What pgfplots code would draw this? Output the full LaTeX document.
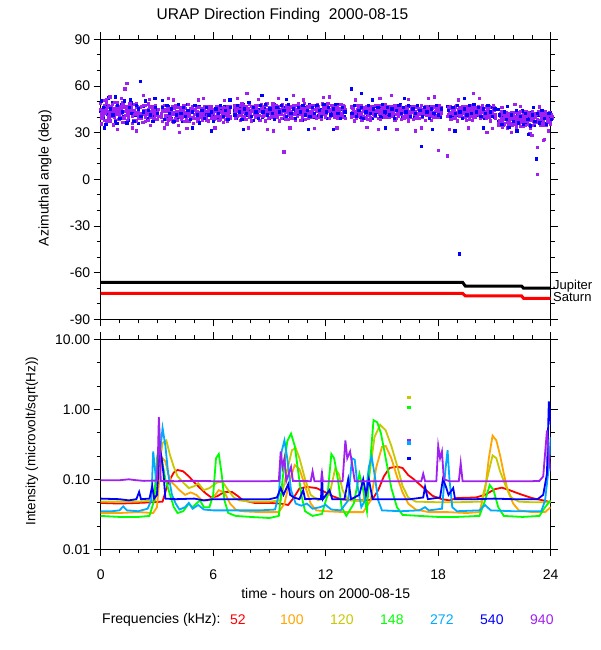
\documentclass[border=0pt]{standalone}
\usepackage{pgfplots}
\pgfplotsset{compat=1.18}
\usepackage{pgfplotstable}
\usepackage{fontspec}
\setmainfont{Liberation Sans}
\definecolor{c52}{RGB}{255,0,0}
\definecolor{c100}{RGB}{255,165,0}
\definecolor{c120}{RGB}{200,200,0}
\definecolor{c148}{RGB}{0,255,0}
\definecolor{c272}{RGB}{0,170,255}
\definecolor{c540}{RGB}{0,0,255}
\definecolor{c940}{RGB}{160,32,240}

\pgfplotstableread{
x p1 p2 p3 p4 p5 b1 b2
0.000 45 39 48 42 36 44 50
0.125 41 47 44 38 51 40 46
0.250 44 37 42 49 45 47 35
0.375 46 40 43 39 48 42 52
0.500 42 45 37 47 44 38 45
0.625 48 43 40 35 46 49 41
0.750 40 44 49 42 38 45 37
0.875 43 38 46 44 50 36 47
1.000 41 45 38 47 43 44 39
1.125 44 36 42 49 40 48 43
1.250 39 43 46 41 37 40 50
1.375 47 41 44 38 62 45 36
1.500 42 48 39 45 43 38 46
1.625 45 40 43 36 47 49 42
1.750 38 44 41 48 42 44 37
1.875 43 46 37 42 49 41 47
2.000 40 42 45 39 44 36 45
2.125 46 39 42 47 41 63 40
2.250 42 44 36 43 48 47 43
2.375 37 41 47 44 40 42 50
2.500 44 48 41 38 45 39 44
2.625 41 43 46 40 35 46 41
2.750 45 38 42 47 43 43 37
2.875 39 46 44 41 48 40 46
3.000 43 40 38 45 42 45 42
3.250 40 44 42 37 47 41 46
3.375 45 39 43 41 48 44 38
3.500 41 46 38 44 36 40 47
3.625 38 42 45 40 43 47 42
3.750 44 37 41 47 39 39 45
3.875 42 45 36 43 46 43 37
4.000 39 41 47 38 44 46 41
4.125 46 43 40 42 35 40 48
4.250 40 38 44 46 41 44 42
4.375 43 47 39 41 45 37 46
4.500 37 42 45 39 43 42 40
4.625 44 40 42 48 38 48 44
4.750 41 45 37 43 40 41 38
4.875 45 39 43 36 47 45 43
5.000 39 44 41 45 42 39 47
5.125 42 37 46 40 44 43 41
5.250 46 41 39 43 37 47 36
5.375 40 43 45 38 42 40 44
5.500 43 39 41 47 45 44 39
5.625 38 46 43 41 40 42 46
5.750 44 41 37 45 42 37 41
5.875 41 44 46 39 43 46 43
6.000 45 38 42 44 40 41 37
6.125 39 43 40 47 45 44 45
6.250 42 46 44 38 41 39 42
6.375 46 40 38 43 44 45 47
6.500 40 44 42 46 37 42 40
6.625 43 38 45 41 43 47 44
6.750 37 42 40 44 47 40 38
6.875 44 46 43 39 41 43 46
7.125 42 39 46 44 48 44 41
7.250 45 43 40 47 41 39 47
7.375 41 47 44 38 45 46 43
7.500 44 40 42 46 49 42 38
7.625 39 45 47 43 41 48 45
7.750 46 42 38 44 47 41 42
7.875 43 48 45 40 42 45 49
8.000 40 44 42 47 38 43 40
8.125 47 41 45 43 44 38 46
8.250 42 46 39 45 48 47 43
8.375 44 43 47 41 40 42 39
8.500 38 45 43 48 44 45 47
8.625 45 40 46 42 41 40 43
8.750 43 47 41 44 38 46 48
8.875 41 44 48 39 45 43 41
9.000 46 42 43 45 40 39 45
9.125 40 48 44 42 47 44 42
9.250 44 41 39 46 43 48 38
9.375 42 45 47 40 44 41 46
9.500 47 43 41 44 38 45 43
9.625 39 46 44 48 42 42 47
9.750 45 40 43 41 18 39 44
9.875 43 47 38 45 46 46 40
10.000 41 44 46 42 39 43 48
10.125 46 39 43 47 44 40 42
10.250 42 45 41 39 48 47 45
10.375 38 43 47 45 42 44 39
10.500 44 48 40 43 46 41 46
10.625 47 41 44 38 43 45 43
10.750 40 46 42 47 45 38 47
10.875 45 42 48 44 39 46 41
11.000 43 39 45 41 47 42 44
11.125 41 47 43 46 42 48 40
11.250 46 44 39 42 48 43 46
11.375 42 40 47 45 41 40 42
11.500 39 45 43 48 44 46 47
11.625 45 42 46 40 43 41 44
11.750 43 48 41 44 39 45 40
11.875 47 41 44 42 46 42 48
12.000 40 46 42 47 43 47 43
12.125 44 43 48 39 45 39 46
12.250 41 47 40 45 42 44 41
12.375 46 42 44 41 48 46 45
12.500 43 45 39 47 44 41 48
12.625 39 44 46 42 41 48 42
12.750 45 40 43 48 46 43 39
12.875 42 47 41 44 40 45 46
13.000 44 43 46 39 45 40 43
13.375 41 45 39 43 47 58 42
13.500 44 40 46 42 38 45 47
13.625 39 47 43 45 41 42 40
13.750 46 42 40 44 48 47 44
13.875 42 45 47 38 43 40 46
14.000 40 43 44 46 41 44 39
14.125 45 39 42 47 44 46 43
14.250 43 46 38 41 45 41 47
14.375 38 44 46 43 40 45 42
14.500 44 41 43 47 46 39 45
14.625 41 47 40 44 42 47 41
14.750 46 43 45 39 48 43 46
14.875 42 38 47 45 43 46 40
15.000 45 44 41 42 47 40 48
15.125 40 46 44 48 41 45 43
15.250 43 42 39 45 46 42 46
15.375 47 45 43 41 40 47 41
15.500 41 40 46 44 43 44 45
15.625 44 47 42 38 45 41 39
15.750 39 43 45 47 42 46 44
15.875 46 41 40 44 48 43 47
16.000 42 45 47 43 39 48 42
16.125 45 39 44 46 41 40 46
16.250 41 46 42 40 45 45 43
16.375 47 43 45 42 38 42 47
16.500 40 44 41 46 43 47 40
16.625 44 38 46 43 47 44 45
16.750 42 46 43 39 44 40 42
16.875 46 42 39 45 41 46 47
17.000 39 45 44 42 46 43 44
17.125 43 41 47 44 40 21 40
17.250 45 46 42 38 43 45 46
17.375 41 43 45 47 44 42 43
17.500 44 40 41 43 46 47 39
17.625 38 45 46 42 43 44 45
17.750 43 42 39 46 47 41 42
17.875 46 44 43 41 40 46 47
18.000 40 47 45 43 19 43 41
18.125 44 42 41 46 43 40 45
18.500 15 44 40 46 42 47 44
18.625 42 38 45 43 47 43 40
18.750 45 43 41 39 44 40 46
18.875 39 46 44 42 40 45 42
19.000 43 41 47 45 38 41 47
19.125 46 44 40 43 42 -48 43
19.250 41 39 45 47 44 44 39
19.375 44 46 42 40 45 47 45
19.500 38 42 46 44 41 42 41
19.625 45 40 43 47 39 46 47
19.750 42 47 41 38 45 43 42
19.875 40 43 46 44 42 40 48
20.000 46 41 39 45 43 44 43
20.125 43 45 44 41 47 41 46
20.250 39 44 42 46 40 46 40
20.375 44 40 47 43 45 43 45
20.500 41 46 43 39 42 39 42
20.625 45 42 40 44 47 45 47
20.750 40 43 46 42 38 42 43
20.875 43 47 41 45 44 46 40
21.000 46 39 44 41 42 40 45
21.250 36 40 34 42 38 37 41
21.375 39 33 41 37 44 40 35
21.500 35 38 42 40 36 36 43
21.625 41 36 39 33 43 42 38
21.750 37 42 35 40 38 39 33
21.875 40 34 38 43 36 35 41
22.000 36 39 42 37 41 43 37
22.125 43 37 35 40 34 38 44
22.250 38 41 39 36 43 41 36
22.375 34 38 43 41 37 37 40
22.500 40 36 38 34 42 44 35
22.625 37 43 40 39 35 36 42
22.750 41 35 37 43 39 40 38
22.875 35 40 42 38 33 43 34
23.000 39 37 34 41 44 38 41
23.125 36 42 39 37 40 35 37
23.250 42 38 36 3 21 13 42
23.375 37 41 43 35 38 41 36
23.500 40 34 38 42 36 37 44
23.625 38 43 37 40 26 42 39
23.750 35 39 42 37 41 36 35
23.875 41 36 38 43 39 40 42
24.000 37 40 35 39 42 43 38
}\azdata

\pgfplotsset{
  panel/.style={
    scale only axis, width=450pt,
    xmin=0, xmax=24, xtick={0,6,...,24}, minor x tick num=5,
    tick align=outside, tick pos=both,
    major tick length=7pt, minor tick length=4pt,
    axis line style={line width=1.4pt},
    every tick/.style={black, line width=0.8pt},
    tick label style={font=\fontsize{14}{16}\selectfont},
    /pgf/number format/assume math mode=true,
  },
  pts/.style={only marks, mark=square*, mark size=1.15pt, mark options={draw=#1, fill=#1, line width=0pt}},
  crv/.style={draw=#1, line width=1.8pt, mark=none},
}

\begin{document}
\begin{tikzpicture}
\path[use as bounding box] (0pt,0pt) rectangle (600pt,-650pt);

% ---------- top panel ----------
\begin{axis}[panel, at={(100.7pt,-319.3pt)}, anchor=south west, height=280pt,
  ymin=-90, ymax=90, ytick={-90,-60,...,90}, minor y tick num=2,
  xticklabels={}]
\addplot[pts=c540] table[x=x,y=b1] \azdata;
\addplot[pts=c940] table[x=x,y=p1] \azdata;
\addplot[pts=c940, xshift=1.2pt, yshift=0.7pt] table[x=x,y=p2] \azdata;
\addplot[pts=c940, yshift=0.8pt] table[x=x,y=p3] \azdata;
\addplot[pts=c940, xshift=1.2pt] table[x=x,y=p4] \azdata;
\addplot[pts=c940, xshift=0.6pt, yshift=-0.7pt] table[x=x,y=p5] \azdata;
\addplot[pts=c540, xshift=0.6pt, yshift=0.4pt] table[x=x,y=b2] \azdata;
\addplot[pts=c940] coordinates {(0.5,53) (1.3,58) (1.7,33) (2.3,54) (3.6,52) (4.2,30) (5.5,52) (7.8,55) (9.2,31) (10.3,54) (12.2,53) (14.8,32) (15.5,54) (16.8,31) (17.8,53) (19.9,55) (20.6,30) (22.1,48) (23.0,28) (23.6,25)
 (0.3,51) (0.9,32) (1.1,52) (1.9,31) (2.6,51.5) (3.4,33) (3.9,51) (4.6,32.5) (5.2,51) (6.1,33) (6.6,50.5) (7.3,52) (7.9,33) (8.4,51.5) (8.9,32) (9.5,52) (10.1,33) (10.8,51) (11.4,32.5) (11.9,52.5) (12.6,33) (13.6,51) (14.2,33.5) (14.9,52) (15.8,32) (16.4,51.5) (17.1,33) (17.5,52) (18.6,32) (19.1,51) (19.6,33) (20.2,52) (20.9,32.5) (21.4,46) (21.9,30) (22.4,47) (22.9,29.5) (23.4,46.5) (23.9,31)};
\addplot[pts=c540] coordinates {(0.8,53) (2.9,52) (5.9,31) (8.6,54) (11.1,32) (13.9,55) (16.2,52) (18.9,31) (21.7,47) (22.8,29)
 (0.2,33) (1.6,51) (3.3,50.5) (4.9,33) (6.9,51) (7.6,32) (9.9,51.5) (12.4,32) (14.5,51) (15.2,33) (17.7,32) (19.4,52) (20.4,33) (21.2,45) (22.2,31) (23.1,46)};
\addplot[black, line width=3pt] coordinates {(0,-66.2) (19.3,-66.2) (19.45,-68.7) (22.45,-68.7) (22.55,-70) (24,-70)};
\addplot[c52, line width=3pt] coordinates {(0,-73.3) (19.3,-73.3) (19.45,-75.0) (22.45,-75.0) (22.55,-76.5) (24,-76.5)};
\end{axis}

% ---------- bottom panel ----------
\begin{axis}[panel, at={(100.7pt,-549.3pt)}, anchor=south west, height=210pt,
  ymode=log, ymin=0.01, ymax=10,
  ytick={0.01,0.1,1,10}, yticklabels={0.01,0.10,1.00,10.00},
  minor ytick={0.0215,0.0464,0.215,0.464,2.15,4.64},
  xticklabel style={yshift=-10pt}]
% 52 kHz
\addplot[crv=c52] coordinates {(0,0.046) (1,0.045) (2,0.046) (2.8,0.047) (3.3,0.048) (3.6,0.09) (3.9,0.125) (4.1,0.136) (4.4,0.13) (4.7,0.11) (5.0,0.09) (5.3,0.075) (5.6,0.063) (5.9,0.055) (6.2,0.057) (6.6,0.066) (7.0,0.066) (7.3,0.058) (7.6,0.05) (8.2,0.046) (9.0,0.046) (9.6,0.045) (10.0,0.043) (10.3,0.055) (10.6,0.074) (11.0,0.078) (11.5,0.075) (12.0,0.065) (12.4,0.057) (12.8,0.052) (13.5,0.05) (14.2,0.05) (14.5,0.052) (14.8,0.07) (15.1,0.11) (15.4,0.145) (15.8,0.152) (16.1,0.145) (16.4,0.115) (16.7,0.1) (17.0,0.085) (17.3,0.072) (17.7,0.058) (18.2,0.052) (18.6,0.05) (19.0,0.054) (20.0,0.055) (20.5,0.06) (21.0,0.072) (21.4,0.076) (21.8,0.07) (22.4,0.061) (23.0,0.054) (23.6,0.05) (24,0.047)};
% 100 kHz
\addplot[crv=c100] coordinates {(0,0.033) (1,0.033) (2,0.034) (2.8,0.033) (3.0,0.04) (3.15,0.12) (3.3,0.2) (3.45,0.18) (3.6,0.12) (3.8,0.09) (4.0,0.08) (4.2,0.07) (4.5,0.06) (4.8,0.065) (5.1,0.06) (5.4,0.05) (5.7,0.05) (6.0,0.055) (6.3,0.07) (6.6,0.065) (6.9,0.045) (7.2,0.037) (7.5,0.035) (8.5,0.034) (9.5,0.034) (9.8,0.045) (10.1,0.1) (10.35,0.16) (10.6,0.14) (10.9,0.08) (11.2,0.045) (11.5,0.036) (12,0.035) (13,0.034) (14,0.034) (14.4,0.05) (14.7,0.15) (15.0,0.29) (15.2,0.3) (15.5,0.2) (15.8,0.11) (16.1,0.065) (16.4,0.045) (16.8,0.037) (17.5,0.034) (18.5,0.034) (19.5,0.033) (20.2,0.034) (20.5,0.07) (20.7,0.2) (20.9,0.42) (21.1,0.36) (21.3,0.22) (21.5,0.12) (21.7,0.07) (22.0,0.045) (22.3,0.036) (23,0.034) (23.7,0.034) (24,0.04)};
% 120 kHz
\addplot[crv=c120] coordinates {(0,0.048) (1,0.048) (2,0.048) (2.9,0.05) (3.1,0.15) (3.3,0.33) (3.5,0.36) (3.7,0.22) (3.9,0.15) (4.1,0.11) (4.4,0.09) (4.7,0.075) (5.0,0.08) (5.2,0.088) (5.5,0.07) (5.8,0.075) (6.2,0.09) (6.5,0.092) (6.8,0.07) (7.1,0.055) (7.4,0.05) (8,0.048) (9,0.048) (9.6,0.05) (9.9,0.12) (10.2,0.26) (10.4,0.28) (10.6,0.2) (10.9,0.1) (11.2,0.06) (11.6,0.05) (12.2,0.06) (12.5,0.14) (12.7,0.12) (12.9,0.07) (13.2,0.05) (14.0,0.049) (14.3,0.1) (14.6,0.4) (14.9,0.6) (15.2,0.5) (15.5,0.3) (15.8,0.16) (16.1,0.08) (16.4,0.055) (16.8,0.048) (18,0.047) (19,0.047) (20.3,0.048) (20.6,0.1) (20.9,0.22) (21.1,0.2) (21.3,0.13) (21.6,0.08) (21.9,0.055) (22.3,0.048) (23,0.047) (24,0.047)};
% 148 kHz
\addplot[crv=c148] coordinates {(0,0.03) (1,0.029) (2,0.029) (2.6,0.03) (2.85,0.05) (3.0,0.2) (3.1,0.29) (3.25,0.2) (3.45,0.1) (3.7,0.06) (3.9,0.04) (4.1,0.033) (4.4,0.035) (4.7,0.045) (4.9,0.04) (5.1,0.045) (5.3,0.05) (5.5,0.04) (5.8,0.04) (6.0,0.06) (6.15,0.2) (6.3,0.23) (6.45,0.12) (6.6,0.05) (6.8,0.033) (7.2,0.03) (8,0.029) (9,0.028) (9.5,0.03) (9.7,0.1) (9.95,0.35) (10.15,0.45) (10.35,0.3) (10.5,0.15) (10.7,0.06) (10.9,0.035) (11.3,0.03) (11.8,0.032) (12.1,0.06) (12.3,0.23) (12.45,0.2) (12.65,0.1) (12.85,0.04) (13.1,0.03) (13.5,0.045) (13.8,0.12) (14.0,0.07) (14.2,0.035) (14.35,0.15) (14.55,0.7) (14.75,0.65) (14.95,0.45) (15.2,0.2) (15.5,0.075) (15.8,0.04) (16.1,0.031) (17,0.03) (18,0.029) (19,0.029) (20.2,0.03) (20.5,0.05) (20.75,0.083) (20.95,0.07) (21.2,0.04) (21.5,0.03) (22.5,0.029) (23.4,0.03) (23.7,0.04) (24,0.05)};
% 272 kHz
\addplot[crv=c272] coordinates {(0,0.035) (0.6,0.035) (1.0,0.036) (1.2,0.041) (1.4,0.036) (2.0,0.035) (2.5,0.038) (2.7,0.05) (2.8,0.25) (2.95,0.1) (3.1,0.2) (3.2,0.3) (3.3,0.54) (3.45,0.3) (3.6,0.12) (3.8,0.06) (4.0,0.045) (4.2,0.037) (4.5,0.04) (4.7,0.046) (4.9,0.038) (5.2,0.043) (5.5,0.037) (6.0,0.036) (7,0.036) (8.5,0.036) (9.3,0.037) (9.5,0.06) (9.65,0.25) (9.8,0.36) (9.95,0.2) (10.15,0.07) (10.4,0.045) (10.7,0.042) (11,0.045) (11.3,0.038) (11.7,0.04) (12.0,0.043) (12.3,0.037) (12.8,0.036) (13.2,0.05) (13.4,0.2) (13.55,0.19) (13.7,0.08) (13.9,0.04) (14.1,0.05) (14.3,0.15) (14.45,0.21) (14.6,0.12) (14.8,0.05) (15.0,0.036) (16,0.035) (17.0,0.036) (17.3,0.04) (17.5,0.036) (18.2,0.038) (18.4,0.15) (18.5,0.26) (18.6,0.1) (18.75,0.04) (19,0.035) (20.2,0.036) (20.5,0.043) (20.8,0.036) (22,0.035) (23.5,0.035) (23.7,0.05) (23.9,0.15) (24,0.4)};
% 540 kHz
\addplot[crv=c540] coordinates {(0,0.053) (1.0,0.052) (1.5,0.05) (1.9,0.052) (2.05,0.066) (2.15,0.052) (2.6,0.053) (2.75,0.08) (2.85,0.053) (3.0,0.06) (3.15,0.29) (3.25,0.2) (3.35,0.12) (3.45,0.053) (4,0.052) (5,0.053) (5.5,0.05) (6,0.052) (7,0.052) (8,0.052) (9,0.052) (9.4,0.055) (9.6,0.075) (9.75,0.06) (10.0,0.085) (10.1,0.06) (10.3,0.055) (10.6,0.052) (10.8,0.07) (10.9,0.052) (11.5,0.053) (11.75,0.052) (11.8,0.13) (11.85,0.052) (12.2,0.07) (12.35,0.052) (13.0,0.052) (13.2,0.1) (13.35,0.052) (13.8,0.06) (14.0,0.1) (14.15,0.06) (14.3,0.1) (14.5,0.052) (15.5,0.052) (16.5,0.052) (17.2,0.055) (17.3,0.078) (17.45,0.052) (18.1,0.055) (18.25,0.1) (18.4,0.08) (18.55,0.06) (18.8,0.075) (18.9,0.052) (20,0.052) (21,0.053) (22,0.052) (23.3,0.052) (23.6,0.06) (23.8,0.12) (23.9,1.3) (24,0.6)};
% 940 kHz
\addplot[crv=c940] coordinates {(0,0.097) (1.0,0.097) (1.5,0.1) (1.9,0.097) (2.3,0.095) (3.0,0.096) (3.05,0.2) (3.1,0.77) (3.15,0.4) (3.2,0.095) (4,0.094) (5,0.095) (6,0.094) (7,0.094) (8,0.094) (9,0.094) (9.5,0.095) (9.6,0.25) (9.7,0.15) (9.8,0.2) (9.9,0.095) (10.15,0.15) (10.25,0.095) (11.2,0.094) (11.3,0.13) (11.4,0.094) (11.75,0.094) (11.8,0.12) (11.85,0.094) (12.9,0.094) (13.05,0.36) (13.15,0.2) (13.3,0.25) (13.45,0.14) (13.55,0.094) (14.4,0.094) (15.6,0.094) (17.1,0.094) (17.2,0.12) (17.3,0.094) (17.9,0.094) (18.0,0.3) (18.1,0.2) (18.2,0.25) (18.3,0.1) (18.6,0.094) (19.1,0.094) (19.2,0.17) (19.3,0.094) (21,0.094) (23.0,0.094) (23.4,0.095) (23.6,0.11) (23.8,0.5) (23.9,0.2) (24,0.13)};
% isolated samples
\addplot[pts=c120] coordinates {(16.45,1.47)};
\addplot[pts=c148] coordinates {(16.45,1.07)};
\addplot[pts=c940] coordinates {(16.45,0.36)};
\addplot[pts=c272] coordinates {(16.45,0.33)};
\addplot[pts=c540] coordinates {(16.45,0.2)};
\end{axis}

% ---------- texts ----------
\node[font=\fontsize{15.5}{18}\selectfont] at (282.5pt,-15pt) {URAP Direction Finding\ \ 2000-08-15};
\node[rotate=90, font=\fontsize{14}{16}\selectfont] at (45pt,-178pt) {Azimuthal angle (deg)};
\node[rotate=90, font=\fontsize{13.5}{16}\selectfont] at (32pt,-441pt) {Intensity (microvolt/sqrt(Hz))};
\node[font=\fontsize{14}{16}\selectfont] at (325.7pt,-593pt) {time - hours on 2000-08-15};
\node[anchor=west, inner sep=0pt, font=\fontsize{13}{15}\selectfont] at (553pt,-286pt) {Jupiter};
\node[anchor=west, inner sep=0pt, font=\fontsize{13}{15}\selectfont] at (553pt,-297.5pt) {Saturn};
\begin{scope}[every node/.style={anchor=west, inner sep=0pt, font=\fontsize{14}{16}\selectfont}]
\node at (102pt,-620pt) {Frequencies (kHz):};
\node[text=c52] at (230pt,-620pt) {52};
\node[text=c100] at (280pt,-620pt) {100};
\node[text=c120] at (330pt,-620pt) {120};
\node[text=c148] at (380pt,-620pt) {148};
\node[text=c272] at (430pt,-620pt) {272};
\node[text=c540] at (480pt,-620pt) {540};
\node[text=c940] at (530pt,-620pt) {940};
\end{scope}
\end{tikzpicture}
\end{document}
